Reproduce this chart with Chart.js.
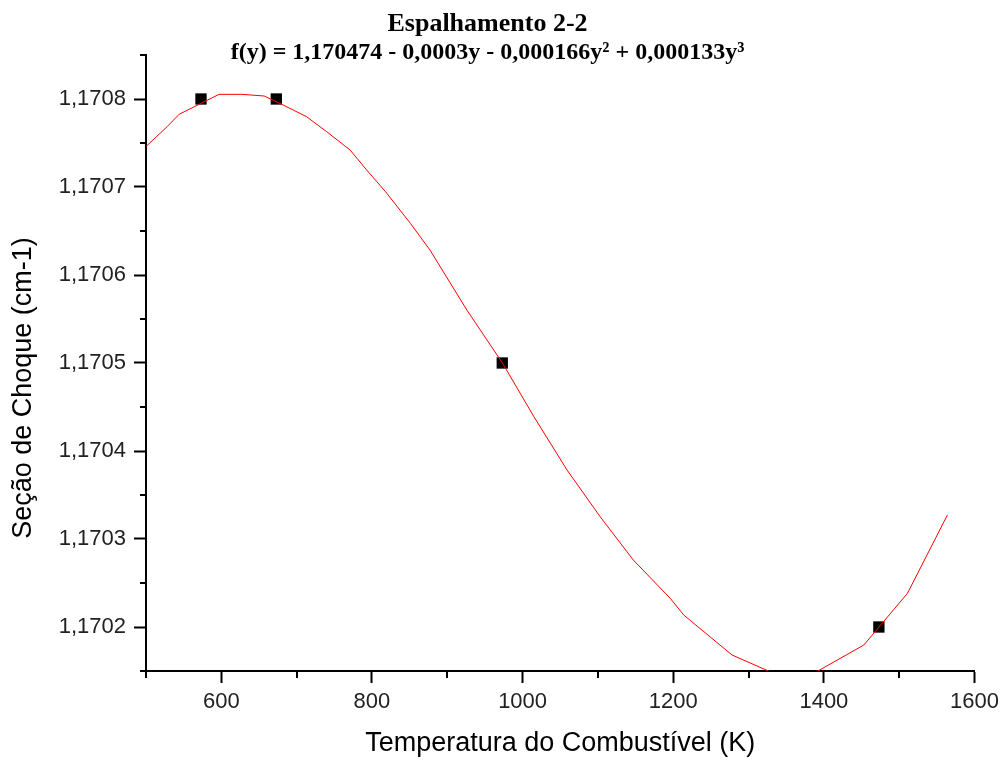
<!DOCTYPE html>
<html>
<head>
<meta charset="utf-8">
<script src="https://cdn.jsdelivr.net/npm/chart.js@4.4.1/dist/chart.umd.min.js"></script>
<style>
  html, body { margin: 0; padding: 0; background: #fff; }
  #wrap { width: 1005px; height: 762px; }
</style>
</head>
<body>
<div id="wrap"><canvas id="chart"></canvas></div>
<script>
// Fitted curve (Temperatura, Seção de Choque)
const curveTemp = [500, 528, 544, 597, 627, 657, 682, 713, 740, 771, 793, 818, 851, 877, 926,
  973, 1015, 1059, 1103, 1147, 1196, 1214, 1278, 1329, 1358, 1392, 1453, 1511, 1564];
const curveSecao = [1.170746, 1.1707685, 1.1707826, 1.1708053, 1.1708053, 1.1708034, 1.1707932,
  1.17078, 1.1707628, 1.170742, 1.1707193, 1.1706947, 1.1706587, 1.1706284, 1.1705602,
  1.1705003, 1.170439, 1.1703784, 1.1703253, 1.1702761, 1.1702326, 1.1702136, 1.1701682,
  1.170149, 1.1701457, 1.17015, 1.1701795, 1.1702383, 1.1703273];

// Measured points
const pointTemp = [573, 673, 973, 1473];
const pointSecao = [1.1708, 1.1708, 1.1705, 1.1702];

const titleText = "Espalhamento 2-2";
const formulaText = "f(y) = 1,170474 - 0,0003y - 0,000166y\u00B2 + 0,000133y\u00B3";
const xTitle = "Temperatura do Combustível (K)";
const yTitle = "Seção de Choque (cm-1)";

const X_STEP = 100;      // minor step, labels every 2
const Y_STEP = 0.00005;  // minor step, labels every 2

const isMajorX = v => Math.round(v) % 200 === 0;
const isMajorY = v => Math.round(v * 1e5) % 10 === 0;

const sansFamily = "'Liberation Sans', Arial, sans-serif";
const serifFamily = "'Liberation Serif', 'Times New Roman', serif";
const tickFont = { family: sansFamily, size: 22 };
const axisTitleFont = { family: sansFamily, size: 27 };

// short ticks between the labelled ones
const minorTicks = {
  id: "minorTicks",
  afterDraw(chart) {
    const { ctx } = chart;
    const x = chart.scales.x;
    const y = chart.scales.y;
    ctx.save();
    ctx.strokeStyle = "#000";
    ctx.lineWidth = 2;
    ctx.beginPath();
    const nx = Math.round((x.max - x.min) / X_STEP);
    for (let i = 0; i <= nx; i++) {
      const v = x.min + i * X_STEP;
      if (isMajorX(v)) continue;
      const px = Math.round(x.getPixelForValue(v));
      ctx.moveTo(px, x.top);
      ctx.lineTo(px, x.top + 7);
    }
    const ny = Math.round((y.max - y.min) / Y_STEP);
    for (let i = 0; i <= ny; i++) {
      const v = y.min + i * Y_STEP;
      if (isMajorY(v)) continue;
      const py = Math.round(y.getPixelForValue(v));
      ctx.moveTo(y.right, py);
      ctx.lineTo(y.right - 6, py);
    }
    ctx.stroke();
    ctx.restore();
  }
};

// y title sits a bit below the middle of the axis
const yAxisTitle = {
  id: "yAxisTitle",
  afterDraw(chart) {
    const { ctx } = chart;
    const y = chart.scales.y;
    ctx.save();
    ctx.translate(y.left + 24, (y.top + y.bottom) / 2 + 25);
    ctx.rotate(-Math.PI / 2);
    ctx.font = `${axisTitleFont.size}px ${sansFamily}`;
    ctx.fillStyle = "#000";
    ctx.textAlign = "center";
    ctx.textBaseline = "middle";
    ctx.fillText(yTitle, 0, 0);
    ctx.restore();
  }
};

new Chart(document.getElementById("chart"), {
  type: "scatter",
  data: {
    datasets: [
      {
        label: "ajuste",
        data: curveTemp.map((t, i) => ({ x: t, y: curveSecao[i] })),
        showLine: true,
        borderColor: "#ff0000",
        borderWidth: 1,
        pointRadius: 0,
        tension: 0,
        fill: false
      },
      {
        label: "dados",
        data: pointTemp.map((t, i) => ({ x: t, y: pointSecao[i] })),
        pointStyle: "rect",
        pointRadius: 8,
        backgroundColor: "#000",
        borderColor: "#000",
        borderWidth: 0,
        clip: false
      }
    ]
  },
  options: {
    responsive: true,
    maintainAspectRatio: false,
    devicePixelRatio: 1,
    animation: false,
    layout: { padding: { left: 0, right: 30, top: 0, bottom: 0 } },
    plugins: {
      legend: { display: false },
      tooltip: { enabled: false },
      title: {
        display: true,
        text: titleText,
        color: "#000",
        font: { family: serifFamily, size: 26, weight: "bold", lineHeight: 1 },
        padding: { top: 11, bottom: 0 }
      },
      subtitle: {
        display: true,
        text: formulaText,
        color: "#000",
        font: { family: serifFamily, size: 24, weight: "bold", lineHeight: "4px" },
        padding: { top: 14, bottom: 0 }
      }
    },
    scales: {
      x: {
        type: "linear",
        min: 500,
        max: 1600,
        afterFit: scale => { scale.height = 91; },
        border: { display: true, color: "#000", width: 2 },
        grid: { drawOnChartArea: false, drawTicks: true, tickLength: 12, tickColor: "#000", tickWidth: 2 },
        ticks: {
          stepSize: X_STEP,
          autoSkip: false,
          maxRotation: 0,
          padding: 6,
          color: "#222",
          font: tickFont,
          callback: v => (isMajorX(v) ? String(v) : null)
        },
        title: { display: true, text: xTitle, color: "#000", font: axisTitleFont, padding: { top: 4, bottom: 2 } }
      },
      y: {
        type: "linear",
        min: 1.17015,
        max: 1.17085,
        afterFit: scale => { scale.width = 146; },
        border: { display: true, color: "#000", width: 2 },
        grid: { drawOnChartArea: false, drawTicks: true, tickLength: 12, tickColor: "#000", tickWidth: 2 },
        ticks: {
          stepSize: Y_STEP,
          autoSkip: false,
          padding: 8,
          color: "#222",
          font: tickFont,
          callback: v => (isMajorY(v) ? v.toFixed(4).replace(".", ",") : null)
        },
        title: { display: false }
      }
    }
  },
  plugins: [minorTicks, yAxisTitle]
});
</script>
</body>
</html>
